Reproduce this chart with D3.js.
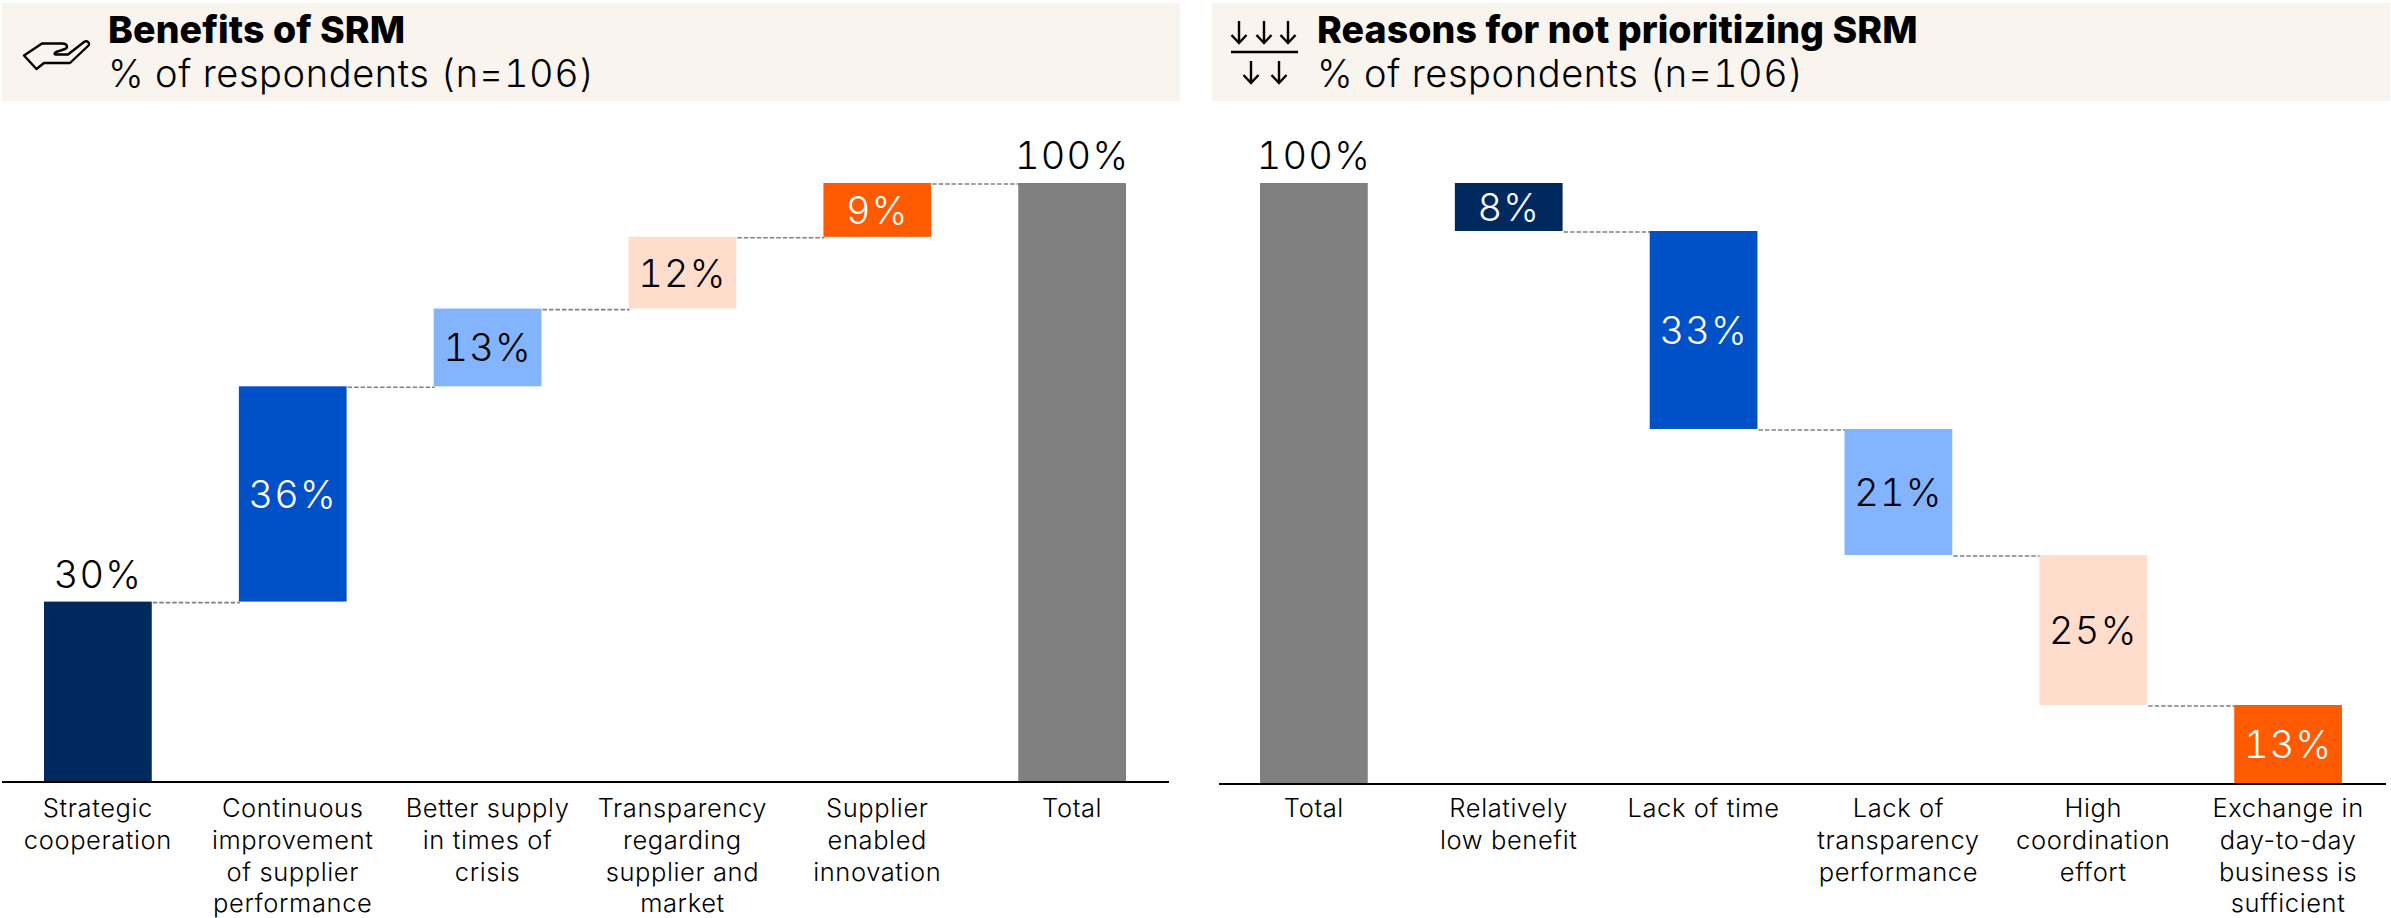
<!DOCTYPE html>
<html><head><meta charset="utf-8">
<script src="https://cdnjs.cloudflare.com/ajax/libs/d3/7.8.5/d3.min.js"></script>
<style>html,body{margin:0;padding:0;background:#fff}svg{display:block}
text{font-family:Inter,sans-serif;font-weight:300;fill:#000}</style></head>
<body><svg id="c" width="2391" height="918"></svg>
<script>
const leftCategories=[["Strategic","cooperation"],["Continuous","improvement","of supplier","performance"],["Better supply","in times of","crisis"],["Transparency","regarding","supplier and","market"],["Supplier","enabled","innovation"],["Total"]];
const leftValues=[30,36,13,12,9,100];
const leftColors=["#002960","#0050C8","#82B4FF","#FFDDCC","#FF5A00","#808080"];
const leftLabelColors=["#000","#fff","#000","#000","#fff","#000"];
const rightCategories=[["Total"],["Relatively","low benefit"],["Lack of time"],["Lack of","transparency","performance"],["High","coordination","effort"],["Exchange in","day-to-day","business is","sufficient"]];
const rightValues=[100,8,33,21,25,13];
const rightColors=["#808080","#002960","#0050C8","#82B4FF","#FFDDCC","#FF5A00"];
const rightLabelColors=["#000","#fff","#fff","#000","#000","#fff"];
const titles=["Benefits of SRM","Reasons for not prioritizing SRM"];
const subtitle="% of respondents (n=106)";

const svg=d3.select("#c");

function header(x0,x1,tx,title){
  svg.append("rect").attr("x",x0).attr("y",3).attr("width",x1-x0).attr("height",98).attr("fill","#F9F4EE");
  svg.append("text").attr("x",tx).attr("y",43).attr("font-size",37.5).style("font-weight",800).style("letter-spacing","0.1px").text(title);
  svg.append("text").attr("x",tx).attr("y",87).attr("font-size",38).style("letter-spacing","0.6px").style("font-variant-numeric","tabular-nums").text(subtitle);
}
function panel(cats,vals,cols,lcols,rangeX,axisX,rangeY,descending){
  const y=d3.scaleLinear().domain([0,100]).range(rangeY);
  const x=d3.scaleBand().domain(d3.range(cats.length)).range(rangeX).paddingInner(0.447).paddingOuter(0);
  let acc=descending?100:0;
  const segs=vals.map((v,i)=>{
    const isTotal=v===100;
    let lo,hi;
    if(isTotal){lo=0;hi=100;if(descending)acc=100;}
    else if(descending){hi=acc;lo=acc-v;acc=lo;}
    else{lo=acc;hi=acc+v;acc=hi;}
    return {i,v,lo,hi,isTotal};
  });
  svg.append("g").selectAll("line").data(segs.slice(0,-1)).join("line")
    .attr("x1",d=>x(d.i)+x.bandwidth()+1)
    .attr("x2",d=>x(d.i+1)+1)
    .attr("y1",d=>y(descending?d.lo:d.hi)+1).attr("y2",d=>y(descending?d.lo:d.hi)+1)
    .attr("stroke","#808080").attr("stroke-width",1.6).attr("stroke-dasharray","4.5 2");
  svg.append("g").selectAll("rect").data(segs).join("rect")
    .attr("x",d=>x(d.i)).attr("width",x.bandwidth())
    .attr("y",d=>y(d.hi)).attr("height",d=>y(d.lo)-y(d.hi))
    .attr("fill",d=>cols[d.i]);
  svg.append("g").selectAll("text").data(segs).join("text")
    .attr("x",d=>x(d.i)+x.bandwidth()/2)
    .attr("y",d=>{
      const outside=d.isTotal||(!descending&&d.i===0);
      return outside?y(d.hi)-14:(y(d.hi)+y(d.lo))/2+14;
    })
    .attr("text-anchor","middle").attr("font-size",38).style("letter-spacing","1.2px").style("font-variant-numeric","tabular-nums")
    .style("fill",d=>lcols[d.i]).text(d=>d.v+"%");
  svg.append("line").attr("x1",axisX[0]).attr("x2",axisX[1]).attr("y1",y(0)+1).attr("y2",y(0)+1).attr("stroke","#000").attr("stroke-width",2.2);
  const ax=d3.axisBottom(x).tickSize(0).tickPadding(0).tickFormat(()=>"");
  const g=svg.append("g").attr("transform",`translate(0,${y(0)})`).call(ax);
  g.select(".domain").remove();
  g.selectAll(".tick text").each(function(i){
    const t=d3.select(this).attr("y",0).attr("dy",null).attr("text-anchor","middle").style("font-size","25.5px").style("font-family","Inter").style("font-weight",300).style("letter-spacing","0.6px");
    cats[i].forEach((line,k)=>t.append("tspan").attr("x",0).attr("y",817-y(0)+k*31.8).text(line));
  });
}
header(2,1180,108,titles[0]);
header(1212,2390,1317,titles[1]);
panel(leftCategories,leftValues,leftColors,leftLabelColors,[44,1126],[2,1169],[781,183],false);
panel(rightCategories,rightValues,rightColors,rightLabelColors,[1260,2342],[1219,2386],[783,183],true);

const hand=svg.append("g").attr("fill","none").attr("stroke","#000").attr("stroke-width",2.4).attr("stroke-linejoin","round").attr("stroke-linecap","round");
hand.append("path").attr("d","M24 55.5 L42 43.5 L62 43.5 C68 43.5 68 48 65 49 L56 52 C54 53 54 54.5 56 54.5 L68 54.5 L84 42 C87 40 91 43 88 46 L70 63 L44 63 L36.5 69 Z");
const arr=svg.append("g").attr("fill","none").attr("stroke","#000").attr("stroke-width",2.4);
[[1239,21,43],[1264,21,43],[1288,21,43],[1251,61,83],[1279,61,83]].forEach(([ax,a,b])=>{
  arr.append("path").attr("d",`M${ax} ${a} V${b} M${ax-7.5} ${b-8} L${ax} ${b} L${ax+7.5} ${b-8}`);
});
svg.append("line").attr("x1",1231).attr("x2",1298).attr("y1",52).attr("y2",52).attr("stroke","#000").attr("stroke-width",2.6);
</script></body></html>
